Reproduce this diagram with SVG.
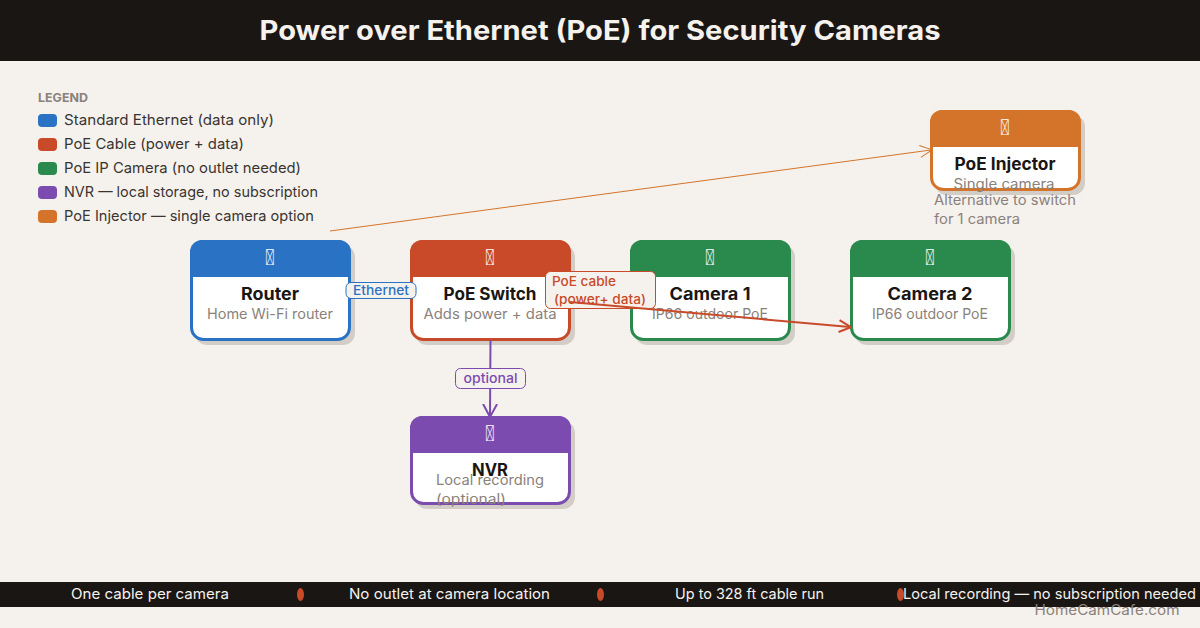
<svg xmlns="http://www.w3.org/2000/svg" width="1200" height="628" viewBox="0 0 1200 628">
<style>
text{font-family:"Inter","Noto Sans","Liberation Sans",sans-serif}
.bg{fill:#f5f2ee}
.shadow{fill:#d2cec7}
.body{fill:#fff;stroke-width:3}
text.icon{font-family:"Roboto",sans-serif;font-size:22px;fill:#fff;text-anchor:middle}
.name{font-size:17px;font-weight:700;fill:#1a1614;text-anchor:middle}
.sub{font-size:14px;fill:#8a817a}
.subm{text-anchor:middle}
.leg{font-size:14.5px;fill:#3a3430}
.foot{font-size:14.5px;fill:#f5f2ee;text-anchor:middle}
.lab{font-size:13px;font-weight:500}
.lbox{fill:#f5f2ee}
.blue{fill:#2a72c4}.red{fill:#c94a28}.green{fill:#2a8a4e}.purple{fill:#7b4bb0}.orange{fill:#d4742a}
.sblue{stroke:#2a72c4}.sred{stroke:#c94a28}.sgreen{stroke:#2a8a4e}.spurple{stroke:#7b4bb0}.sorange{stroke:#d4742a}
</style>
<defs>
<marker id="aBlue" markerWidth="14" markerHeight="14" refX="12" refY="7" orient="auto" markerUnits="userSpaceOnUse"><path d="M1 1L13 7L1 13" fill="none" stroke="#2a72c4" stroke-width="2"/></marker>
<marker id="aRed" markerWidth="14" markerHeight="14" refX="12" refY="7" orient="auto" markerUnits="userSpaceOnUse"><path d="M1 1L13 7L1 13" fill="none" stroke="#c94a28" stroke-width="2"/></marker>
<marker id="aPurple" markerWidth="14" markerHeight="16" refX="12" refY="8" orient="auto" markerUnits="userSpaceOnUse"><path d="M0 1L13 8L0 15" fill="none" stroke="#7b4bb0" stroke-width="2"/></marker>
<marker id="aOrange" markerWidth="14" markerHeight="14" refX="12" refY="7" orient="auto" markerUnits="userSpaceOnUse"><path d="M1 1L13 7L1 13" fill="none" stroke="#d4742a" stroke-width="1"/></marker>
</defs>
<rect class="bg" width="1200" height="628"/>
<rect x="0" y="0" width="1200" height="61" fill="#1a1614"/>
<text x="600" y="40" font-size="27" font-weight="700" fill="#f5f2ee" text-anchor="middle" textLength="681" lengthAdjust="spacingAndGlyphs">Power over Ethernet (PoE) for Security Cameras</text>

<g id="legend">
<text x="38" y="102" font-size="12" font-weight="700" fill="#8a817a" textLength="50" lengthAdjust="spacingAndGlyphs">LEGEND</text>
<rect class="blue" x="38" y="114" width="19" height="13" rx="4"/><text class="leg" x="64" y="125" textLength="210" lengthAdjust="spacingAndGlyphs">Standard Ethernet (data only)</text>
<rect class="red" x="38" y="138" width="19" height="13" rx="4"/><text class="leg" x="64" y="149" textLength="180" lengthAdjust="spacingAndGlyphs">PoE Cable (power + data)</text>
<rect class="green" x="38" y="162" width="19" height="13" rx="4"/><text class="leg" x="64" y="173" textLength="237" lengthAdjust="spacingAndGlyphs">PoE IP Camera (no outlet needed)</text>
<rect class="purple" x="38" y="186" width="19" height="13" rx="4"/><text class="leg" x="64" y="197" textLength="254" lengthAdjust="spacingAndGlyphs">NVR — local storage, no subscription</text>
<rect class="orange" x="38" y="210" width="19" height="13" rx="4"/><text class="leg" x="64" y="221" textLength="250" lengthAdjust="spacingAndGlyphs">PoE Injector — single camera option</text>
</g>

<g id="router">
<rect class="shadow" x="195" y="245" width="160" height="100" rx="12"/>
<rect class="body sblue" x="191.500" y="241.500" width="158" height="98" rx="12"/>
<path class="blue" d="M190 277V252a12 12 0 0 1 12-12H339a12 12 0 0 1 12 12V277Z"/>
<text class="icon" x="270" y="265">&#x10FFFD;</text>
<text class="name" x="270" y="300" textLength="58" lengthAdjust="spacingAndGlyphs">Router</text>
<text class="sub subm" x="270" y="319" textLength="126" lengthAdjust="spacingAndGlyphs">Home Wi-Fi router</text>
</g>
<g id="poe-switch">
<rect class="shadow" x="415" y="245" width="160" height="100" rx="12"/>
<rect class="body sred" x="411.500" y="241.500" width="158" height="98" rx="12"/>
<path class="red" d="M410 277V252a12 12 0 0 1 12-12H559a12 12 0 0 1 12 12V277Z"/>
<text class="icon" x="490" y="265">&#x10FFFD;</text>
<text class="name" x="490" y="300" textLength="93" lengthAdjust="spacingAndGlyphs">PoE Switch</text>
<text class="sub subm" x="490" y="319" textLength="133" lengthAdjust="spacingAndGlyphs">Adds power + data</text>
</g>
<g id="camera-1">
<rect class="shadow" x="635" y="245" width="160" height="100" rx="12"/>
<rect class="body sgreen" x="631.500" y="241.500" width="158" height="98" rx="12"/>
<path class="green" d="M630 277V252a12 12 0 0 1 12-12H779a12 12 0 0 1 12 12V277Z"/>
<text class="icon" x="710" y="265">&#x10FFFD;</text>
<text class="name" x="710" y="300" textLength="81" lengthAdjust="spacingAndGlyphs">Camera 1</text>
<text class="sub subm" x="710" y="319" textLength="116" lengthAdjust="spacingAndGlyphs">IP66 outdoor PoE</text>
</g>
<g id="camera-2">
<rect class="shadow" x="855" y="245" width="160" height="100" rx="12"/>
<rect class="body sgreen" x="851.500" y="241.500" width="158" height="98" rx="12"/>
<path class="green" d="M850 277V252a12 12 0 0 1 12-12H999a12 12 0 0 1 12 12V277Z"/>
<text class="icon" x="930" y="265">&#x10FFFD;</text>
<text class="name" x="930" y="300" textLength="85" lengthAdjust="spacingAndGlyphs">Camera 2</text>
<text class="sub subm" x="930" y="319" textLength="116" lengthAdjust="spacingAndGlyphs">IP66 outdoor PoE</text>
</g>
<g id="nvr">
<rect class="shadow" x="415" y="421" width="160" height="88" rx="12"/>
<rect class="body spurple" x="411.500" y="417.500" width="158" height="86" rx="12"/>
<path class="purple" d="M410 453V428a12 12 0 0 1 12-12H559a12 12 0 0 1 12 12V453Z"/>
<text class="icon" x="490" y="441">&#x10FFFD;</text>
<text class="name" x="490" y="476" textLength="36" lengthAdjust="spacingAndGlyphs">NVR</text>
<text class="sub" x="436" y="485" textLength="108" lengthAdjust="spacingAndGlyphs">Local recording</text>
<text class="sub" x="436" y="504" textLength="70" lengthAdjust="spacingAndGlyphs">(optional)</text>
</g>
<g id="poe-injector">
<rect class="shadow" x="935" y="115" width="150" height="80" rx="12"/>
<rect class="body sorange" x="931.500" y="111.500" width="148" height="78" rx="12"/>
<path class="orange" d="M930 147V122a12 12 0 0 1 12-12H1069a12 12 0 0 1 12 12V147Z"/>
<text class="icon" x="1005" y="135">&#x10FFFD;</text>
<text class="name" x="1005" y="170" textLength="101" lengthAdjust="spacingAndGlyphs">PoE Injector</text>
<text class="sub subm" x="1004" y="189" textLength="101" lengthAdjust="spacingAndGlyphs">Single camera</text>
<text class="sub" x="934" y="205" textLength="142" lengthAdjust="spacingAndGlyphs">Alternative to switch</text>
<text class="sub" x="934" y="224" textLength="86" lengthAdjust="spacingAndGlyphs">for 1 camera</text>
</g>

<g id="connectors" fill="none">
<line class="sblue" x1="350" y1="290" x2="410" y2="290" stroke-width="2" marker-end="url(#aBlue)"/>
<line class="sorange" x1="330" y1="231" x2="931" y2="150" stroke-width="1" marker-end="url(#aOrange)"/>
<line class="spurple" x1="490.500" y1="340" x2="490" y2="416" stroke-width="2" marker-end="url(#aPurple)"/>
<g>
<rect class="lbox sblue" x="346" y="282.500" width="70" height="16" rx="5" stroke-width="1"/>
<text class="lab blue" x="381" y="295" text-anchor="middle" textLength="56" lengthAdjust="spacingAndGlyphs">Ethernet</text>
<rect class="lbox spurple" x="455.500" y="368.500" width="70" height="20" rx="5" stroke-width="1"/>
<text class="lab purple" x="490.500" y="383" text-anchor="middle" textLength="54" lengthAdjust="spacingAndGlyphs">optional</text>
<rect class="lbox sred" x="545.500" y="271.500" width="110" height="37" rx="5" stroke-width="1"/>
<text class="lab red" x="552" y="286" textLength="64" lengthAdjust="spacingAndGlyphs">PoE cable</text>
<text class="lab red" x="554" y="304" textLength="92" lengthAdjust="spacingAndGlyphs">(power+ data)</text>
</g>
<line class="sred" x1="570" y1="302" x2="850" y2="327" stroke-width="2" marker-end="url(#aRed)"/>
</g>

<g id="footer">
<rect x="0" y="582" width="1200" height="25" fill="#1a1614"/>
<text class="foot" x="150" y="599" textLength="158" lengthAdjust="spacingAndGlyphs">One cable per camera</text>
<ellipse class="red" cx="300.500" cy="594.500" rx="3.500" ry="6.500"/>
<text class="foot" x="449.500" y="599" textLength="201" lengthAdjust="spacingAndGlyphs">No outlet at camera location</text>
<ellipse class="red" cx="600.500" cy="594.500" rx="3.500" ry="6.500"/>
<text class="foot" x="749.500" y="599" textLength="149" lengthAdjust="spacingAndGlyphs">Up to 328 ft cable run</text>
<ellipse class="red" cx="900.500" cy="594.500" rx="3.500" ry="6.500"/>
<text class="foot" x="1049.500" y="599" textLength="293" lengthAdjust="spacingAndGlyphs">Local recording — no subscription needed</text>
<text x="1107" y="615" font-size="14" fill="#8a817a" text-anchor="middle" textLength="145" lengthAdjust="spacingAndGlyphs">HomeCamCafe.com</text>
</g>
</svg>
